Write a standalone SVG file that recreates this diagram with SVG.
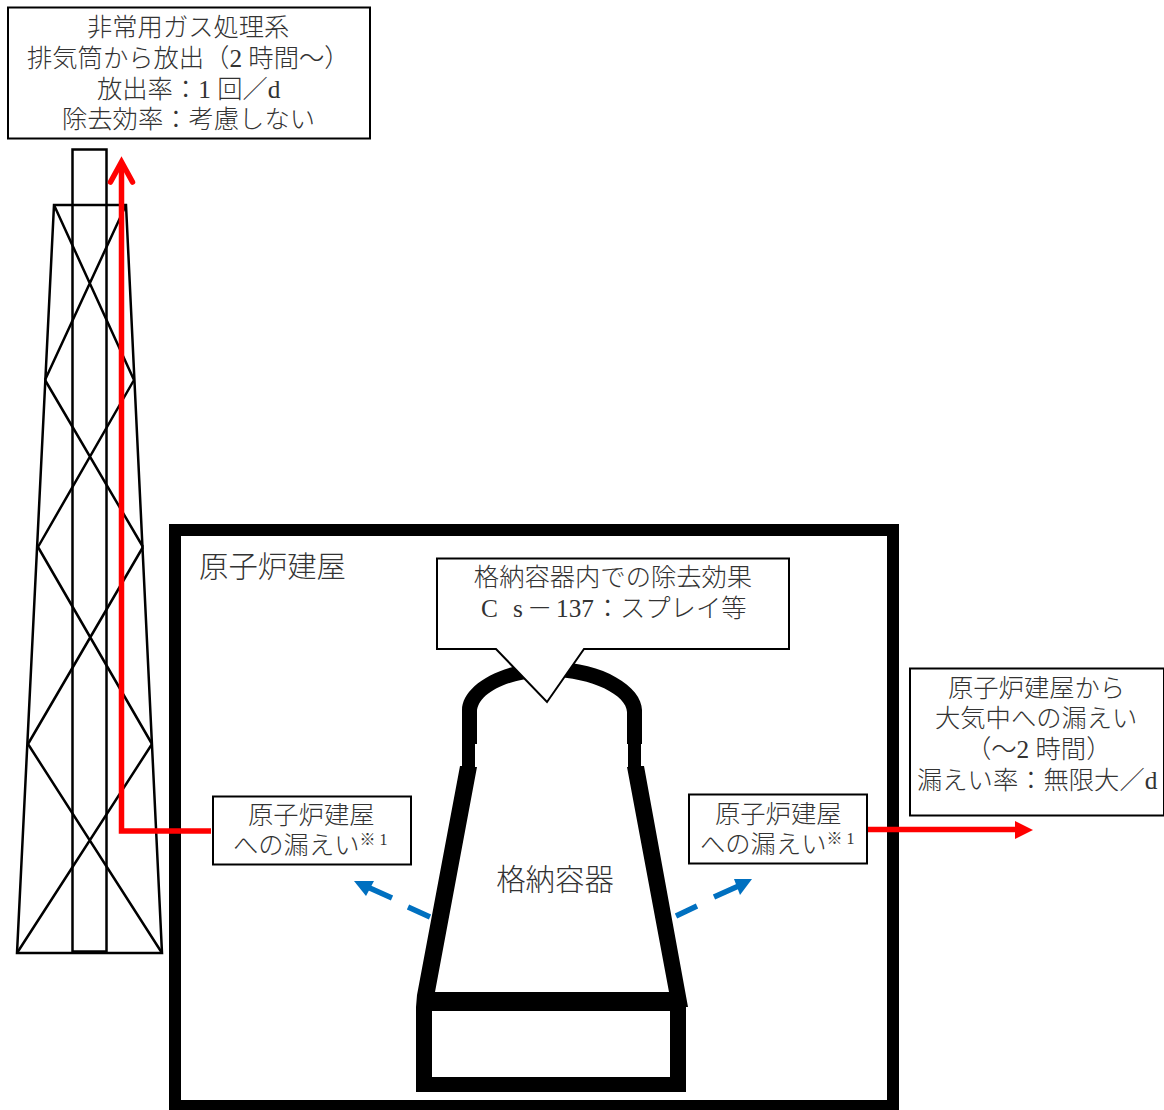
<svg xmlns="http://www.w3.org/2000/svg" width="1164" height="1110" viewBox="0 0 1164 1110">
<style>
text{font-family:"Liberation Serif","Noto Sans CJK JP",serif;font-size:25.300px;font-weight:300;fill:#333}
.c{text-anchor:middle}
.big{font-size:29.400px}
.sup{font-size:16px}
.box{fill:#fff;stroke:#000;stroke-width:2}
.thin{fill:none;stroke:#000;stroke-width:2.500}
.red{fill:none;stroke:#f00;stroke-width:5.500}
.blue{fill:none;stroke:#0070c0;stroke-width:5.500}
</style>
<rect width="1164" height="1110" fill="#fff"/>
<g id="stack">
<path class="thin" d="M54 205H126L162 953H17Z"/>
<rect class="thin" x="72.500" y="149.500" width="34" height="802"/>
<path class="thin" d="M54 205L134 380M126 205L45 380M45 380L143 547M134 380L38 547M38 547L152 744M143 547L28 744M28 744L162 953M152 744L17 953"/>
</g>
<g id="reactor-building">
<rect x="175" y="530" width="718" height="576" fill="none" stroke="#000" stroke-width="12"/>
<text class="big" x="199" y="577">原子炉建屋</text>
</g>
<g id="containment">
<path d="M462 744V710C462 688 495 664 547 662C600 660 642 686 642 710V744H641V766H644L688 1007H686V1092H416V1007L417 995L460 766H462ZM477 744H475V767H477L435 992H669L627 767H628V744H627V712C627 695 590 676 547 677C505 678 477 695 477 712Z" fill="#000" fill-rule="evenodd"/>
<rect x="432" y="1011" width="238" height="66" fill="#fff"/>
<text class="big c" x="555" y="890">格納容器</text>
</g>
<g id="spray-callout">
<path class="box" d="M437 558.500H789V649H584L547 702L496 649H437Z"/>
<text class="c" x="613" y="586">格納容器内での除去効果</text>
<text y="617"><tspan x="481">C</tspan><tspan x="513">s</tspan><tspan x="527">－</tspan><tspan x="556">137</tspan><tspan x="595">：</tspan><tspan x="620">スプレイ等</tspan></text>
</g>
<g id="connectors">
<path class="red" d="M211 831H121.500V164"/>
<path class="red" d="M110.500 182L121.500 162L132.500 182" stroke-linecap="round"/>
<path class="red" d="M867 829.500H1016"/>
<path d="M1015 821L1033 830L1015 839Z" fill="#f00"/>
<path class="blue" d="M430 917L408 907M392 898L363 885"/>
<path d="M354 881H374L366 896Z" fill="#0070c0"/>
<path class="blue" d="M676 916L697 906M714 897L743 884"/>
<path d="M752 879H734L740 895Z" fill="#0070c0"/>
</g>
<g id="emergency-gas">
<rect class="box" x="8" y="7.500" width="362" height="131"/>
<text x="87" y="36">非常用ガス処理系</text>
<text x="27" y="67">排気筒から放出（2 時間～）</text>
<text x="97" y="98">放出率：1 回／d</text>
<text x="62" y="128">除去効率：考慮しない</text>
</g>
<g id="leak-left">
<rect class="box" x="213" y="796.500" width="198" height="68"/>
<text x="248" y="824">原子炉建屋</text>
<text x="233" y="854">への漏えい<tspan class="sup" dy="-9">※ 1</tspan></text>
</g>
<g id="leak-right">
<rect class="box" x="689" y="794.500" width="178" height="69"/>
<text x="715" y="823">原子炉建屋</text>
<text x="700" y="853">への漏えい<tspan class="sup" dy="-9">※ 1</tspan></text>
</g>
<g id="leak-atmosphere">
<rect class="box" x="910" y="668.500" width="254" height="147"/>
<text x="948" y="697">原子炉建屋から</text>
<text x="935" y="727">大気中への漏えい</text>
<text x="966" y="758">（～2 時間）</text>
<text x="917" y="789">漏えい率：無限大／d</text>
</g>
</svg>
